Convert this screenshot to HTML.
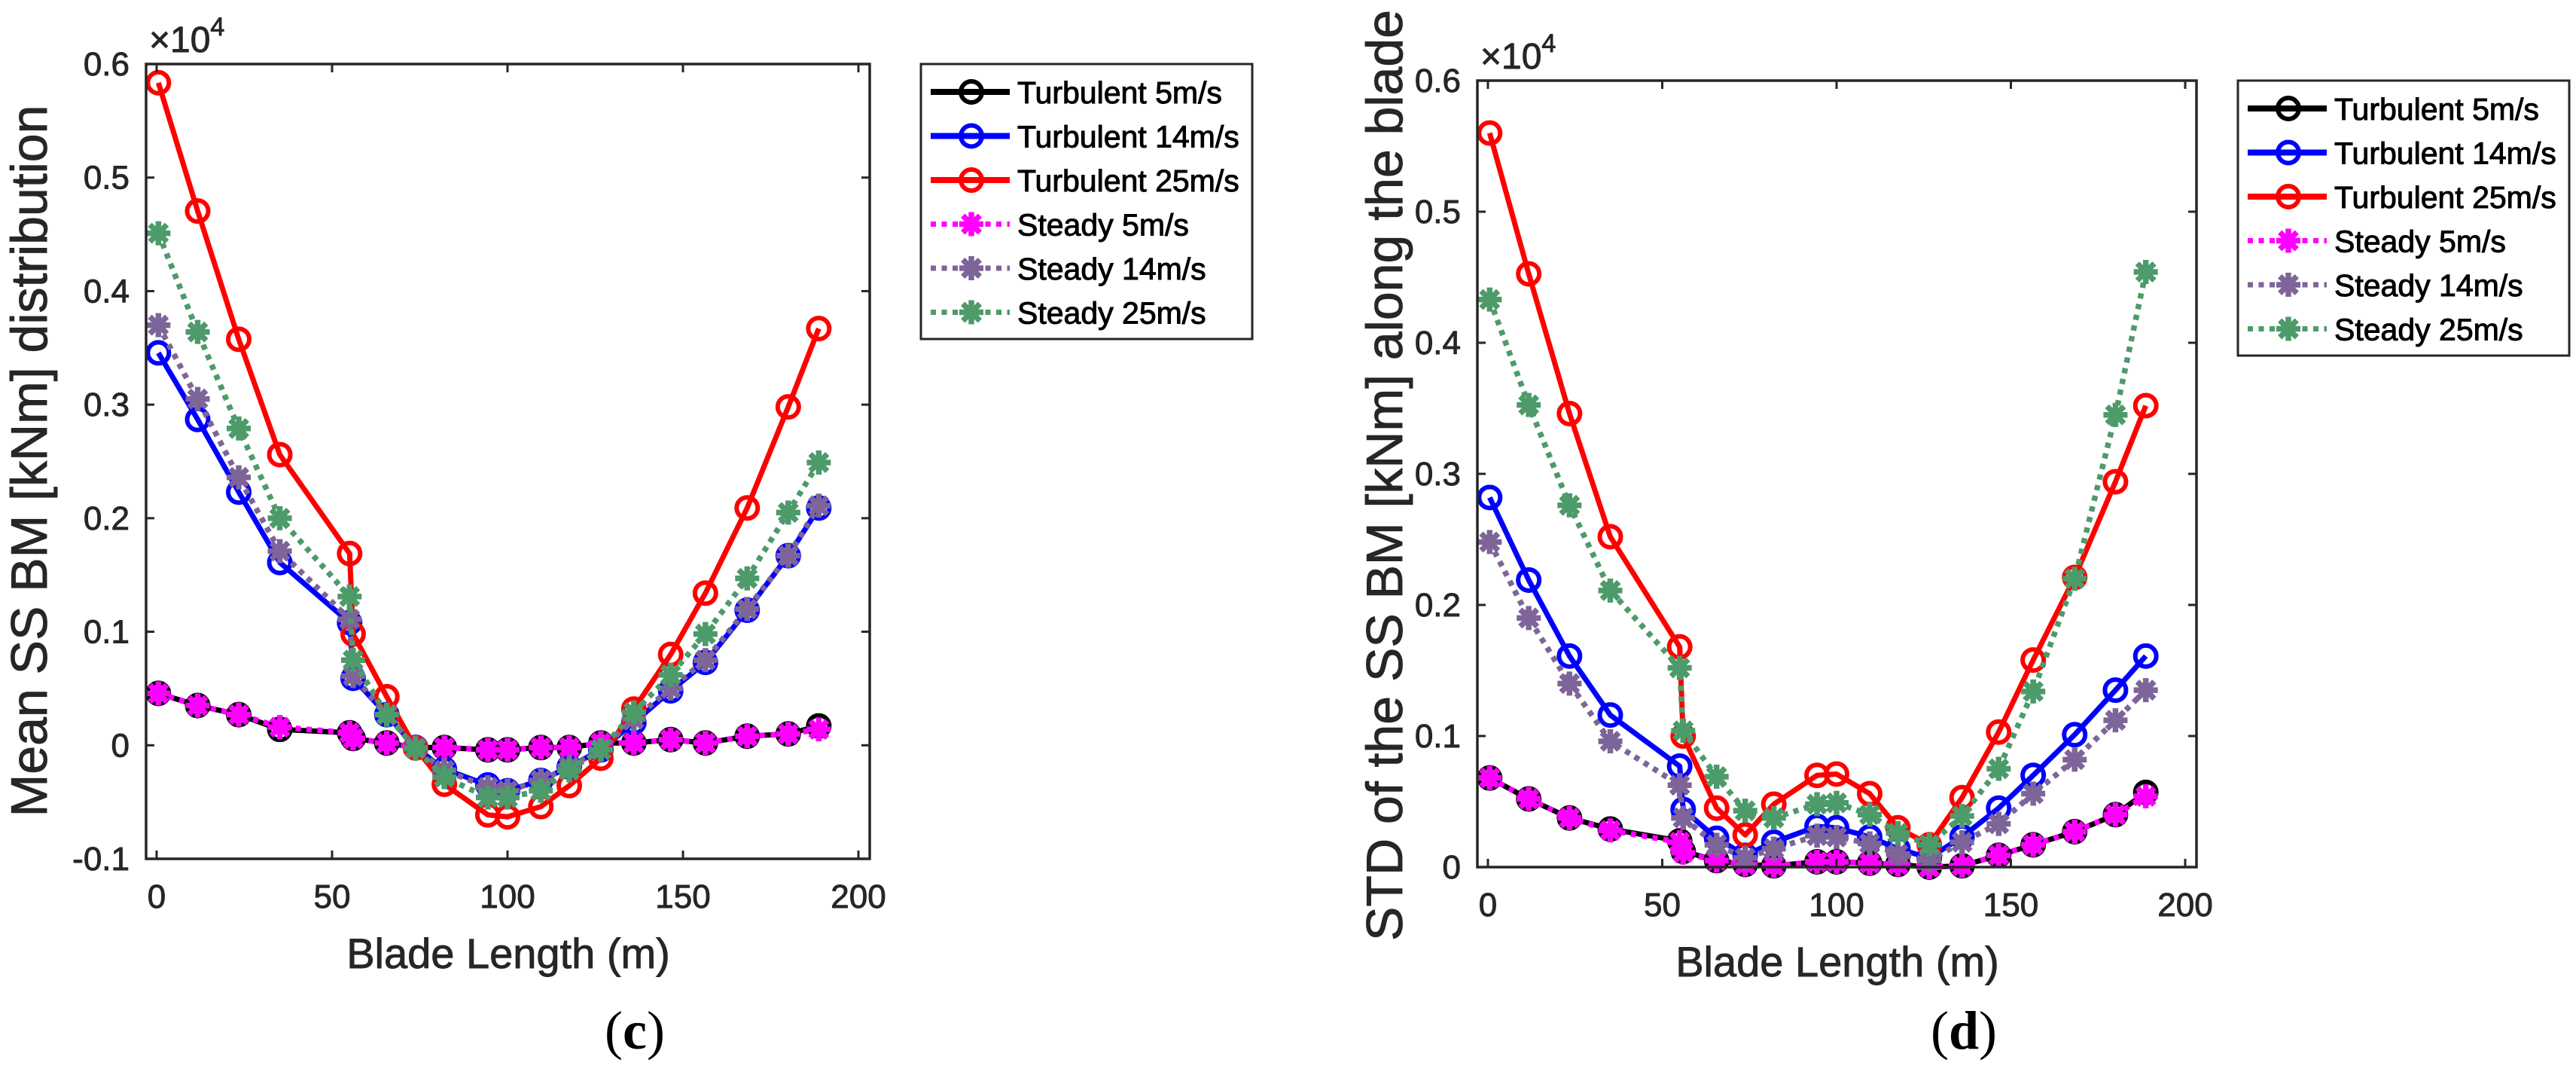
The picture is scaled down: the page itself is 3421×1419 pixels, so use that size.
<!DOCTYPE html>
<html><head><meta charset="utf-8"><style>
html,body{margin:0;padding:0;background:#fff;}
svg{display:block;}
text{font-family:"Liberation Sans",Arial,sans-serif;fill:#262626;}
.hv{stroke:#262626;stroke-width:0.9px;}
</style></head>
<body>
<svg id="fig" width="3421" height="1419" viewBox="0 0 3421 1419" xmlns="http://www.w3.org/2000/svg">
<text x="843" y="1392" text-anchor="middle" style="font-family:'Liberation Serif',serif;font-size:72px;fill:#000">(<tspan font-weight="bold">c</tspan>)</text>
<text x="2608" y="1392" text-anchor="middle" style="font-family:'Liberation Serif',serif;font-size:72px;fill:#000">(<tspan font-weight="bold">d</tspan>)</text>
</svg>
<script>
const NS='http://www.w3.org/2000/svg';
const svg=document.getElementById('fig');

const bladeX=[0.5,11.7,23.4,35.1,55,56,65.6,73.8,82,94.4,100,109.5,117.6,126.6,136,146.5,156.4,168.3,180,188.7];
const seriesNames=['Turbulent 5m/s','Turbulent 14m/s','Turbulent 25m/s','Steady 5m/s','Steady 14m/s','Steady 25m/s'];
const yTicks=[-0.1,0,0.1,0.2,0.3,0.4,0.5,0.6];
const yTicksStd=[0,0.1,0.2,0.3,0.4,0.5,0.6];
const xTicks=[0,50,100,150,200];

// Panel (c) Mean SS BM (x1e4)
const meanT5=[0.0457,0.035,0.027,0.014,0.011,0.006,0.002,-0.002,-0.002,-0.004,-0.004,-0.002,-0.002,0.002,0.002,0.005,0.002,0.008,0.010,0.017];
const meanT14=[0.3456,0.287,0.223,0.161,0.108,0.059,0.027,-0.002,-0.021,-0.035,-0.040,-0.031,-0.019,-0.004,0.020,0.048,0.073,0.119,0.167,0.209];
const meanT25=[0.5835,0.4705,0.3576,0.256,0.1689,0.098,0.0427,-0.0024,-0.0343,-0.0613,-0.063,-0.054,-0.0355,-0.0114,0.0319,0.080,0.134,0.209,0.298,0.367];
const meanS5=[0.0457,0.035,0.027,0.016,0.011,0.006,0.002,-0.002,-0.002,-0.004,-0.004,-0.002,-0.002,0.002,0.002,0.005,0.002,0.008,0.010,0.014];
const meanS14=[0.370,0.305,0.236,0.171,0.111,0.061,0.027,-0.002,-0.022,-0.037,-0.040,-0.031,-0.019,-0.004,0.023,0.050,0.075,0.120,0.167,0.211];
const meanS25=[0.451,0.364,0.279,0.200,0.131,0.075,0.027,-0.003,-0.028,-0.046,-0.046,-0.040,-0.022,-0.004,0.029,0.062,0.098,0.147,0.205,0.249];

// Panel (d) STD of SS BM (x1e4)
const stdT5=[0.068,0.052,0.0375,0.029,0.020,0.012,0.005,0.002,0.001,0.004,0.004,0.003,0.002,0.000,0.001,0.009,0.017,0.027,0.040,0.057];
const stdT14=[0.282,0.219,0.161,0.116,0.077,0.044,0.022,0.009,0.019,0.031,0.030,0.023,0.014,0.007,0.023,0.045,0.070,0.101,0.135,0.161];
const stdT25=[0.560,0.4526,0.346,0.252,0.168,0.100,0.045,0.0245,0.048,0.070,0.071,0.056,0.030,0.017,0.053,0.103,0.158,0.221,0.294,0.352];
const stdS5=[0.068,0.052,0.0375,0.028,0.019,0.011,0.005,0.002,0.001,0.004,0.004,0.003,0.002,0.000,0.001,0.009,0.017,0.027,0.040,0.054];
const stdS14=[0.248,0.190,0.140,0.096,0.0625,0.0375,0.017,0.007,0.014,0.024,0.023,0.018,0.010,0.005,0.019,0.033,0.056,0.082,0.112,0.135];
const stdS25=[0.433,0.3526,0.276,0.211,0.152,0.104,0.069,0.043,0.0375,0.048,0.049,0.040,0.026,0.017,0.039,0.075,0.134,0.220,0.345,0.454];

const colors=['#000000','#0000ff','#ff0000','#ff00ff','#7d6499','#4d9a6a'];

function el(tag,attrs,parent){const e=document.createElementNS(NS,tag);for(const k in attrs)e.setAttribute(k,attrs[k]);(parent||svg).appendChild(e);return e;}

function circleMarker(g,x,y,c){
  const m=el('circle',{cx:x,cy:y,r:14,fill:'none',stroke:c,'stroke-width':6},g);
  
  
}
function starMarker(g,x,y,c){
  const m=el('g',{},g);
  
  
  for(let a=0;a<4;a++){const t=a*Math.PI/4;const dx=16*Math.cos(t),dy=16*Math.sin(t);
    el('line',{x1:x-dx,y1:y-dy,x2:x+dx,y2:y+dy,stroke:c,'stroke-width':7.5},m);}
  el('circle',{cx:x,cy:y,r:8,fill:c},m);
}

function drawPanel(p){
  const sx=v=>p.x0+(v-0)*(p.x200-p.x0)/200;
  const sy=v=>p.yBot+(v-p.ymin)*(p.yTop-p.yBot)/(p.ymax-p.ymin);
  const g=el('g',{});
  
  
  p.series.forEach((vals,i)=>{
    const sg=el('g',{},g);
    
    
    const pts=bladeX.map((x,j)=>sx(x)+','+sy(vals[j])).join(' ');
    const steady=i>=3;
    const line=el('polyline',{points:pts,fill:'none',stroke:colors[i],'stroke-width':steady?7.5:7,'stroke-linejoin':'round','stroke-dasharray':steady?'7 7.5':'none'},sg);
    
    
    bladeX.forEach((x,j)=>{steady?starMarker(sg,sx(x),sy(vals[j]),colors[i]):circleMarker(sg,sx(x),sy(vals[j]),colors[i]);});
  });
  const box=el('rect',{x:p.L,y:p.yTop,width:p.R-p.L,height:p.yBot-p.yTop,fill:'none',stroke:'#262626','stroke-width':3.5},g);
  
  
  p.yt.forEach(v=>{
    const y=sy(v);
    el('line',{x1:p.L,y1:y,x2:p.L+11,y2:y,stroke:'#262626','stroke-width':3},g);
    el('line',{x1:p.R,y1:y,x2:p.R-11,y2:y,stroke:'#262626','stroke-width':3},g);
    const t=el('text',{x:p.L-22,y:y+15,'text-anchor':'end','font-size':44,class:'hv'},g);
    t.textContent=(v===0?'0':v.toFixed(1));
    
    
  });
  xTicks.forEach(v=>{
    const x=sx(v);
    el('line',{x1:x,y1:p.yBot,x2:x,y2:p.yBot-11,stroke:'#262626','stroke-width':3},g);
    el('line',{x1:x,y1:p.yTop,x2:x,y2:p.yTop+11,stroke:'#262626','stroke-width':3},g);
    const t=el('text',{x:x,y:p.yBot+65,'text-anchor':'middle','font-size':44,class:'hv'},g);
    t.textContent=String(v);
    
    
  });
  const ex=el('text',{x:p.L+4,y:p.yTop-16,'font-size':48,class:'hv'},g);
  ex.innerHTML='×10<tspan dy="-22" font-size="34">4</tspan>';
  
  
  const xl=el('text',{x:p.xlx,y:p.yBot+145,'text-anchor':'middle','font-size':56,class:'hv'},g);
  xl.textContent='Blade Length (m)';
  
  
  const yl=el('text',{x:0,y:0,'text-anchor':'middle','font-size':68,class:'hv',transform:'translate('+p.ylx+','+p.yly+') rotate(-90)'},g);
  yl.textContent=p.ylabel;
  
  
  const lg=el('g',{},g);
  
  
  el('rect',{x:p.lgx,y:p.lgy,width:440,height:365,fill:'#fff',stroke:'#262626','stroke-width':3},lg);
  seriesNames.forEach((n,i)=>{
    const ey=p.lgy+37+i*58.5;
    const eg=el('g',{},lg);
    
    
    const steady=i>=3;
    el('line',{x1:p.lgx+13,y1:ey,x2:p.lgx+118,y2:ey,stroke:colors[i],'stroke-width':steady?7:8,'stroke-dasharray':steady?'7 7.5':'none'},eg);
    steady?starMarker(eg,p.lgx+67,ey,colors[i]):circleMarker(eg,p.lgx+67,ey,colors[i]);
    const t=el('text',{x:p.lgx+128,y:ey+15,'font-size':41,style:'fill:#000;stroke:#000;stroke-width:1px'},eg);
    t.textContent=n;
  });
}

drawPanel({name:'panel-c-mean-chart',L:194,R:1155,yTop:85,yBot:1140,x0:208,x200:1140,ymin:-0.1,ymax:0.6,
  yt:yTicks,series:[meanT5,meanT14,meanT25,meanS5,meanS14,meanS25],
  ylabel:'Mean SS BM [kNm] distribution',ylx:62,yly:612,xlx:675,lgx:1223,lgy:85});
drawPanel({name:'panel-d-std-chart',L:1962,R:2917,yTop:107,yBot:1151,x0:1976,x200:2902,ymin:0,ymax:0.6,
  yt:yTicksStd,series:[stdT5,stdT14,stdT25,stdS5,stdS14,stdS25],
  ylabel:'STD of the SS BM [kNm] along the blade',ylx:1862,yly:631,xlx:2440,lgx:2972,lgy:107});
</script>
</body></html>
